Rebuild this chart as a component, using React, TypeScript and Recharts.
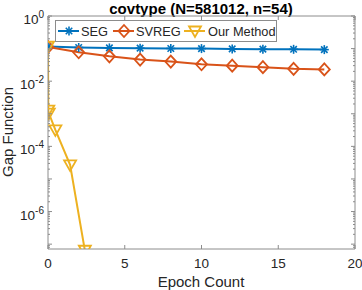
import React from "react";
import { LineChart, Line, XAxis, YAxis } from "recharts";

const segEpochs = [0, 2, 4, 6, 8, 10, 12, 14, 16, 18];
const segGap = [0.115, 0.108, 0.105, 0.103, 0.101, 0.1, 0.098, 0.096, 0.095, 0.093];

const svregEpochs = [0, 2, 4, 6, 8, 10, 12, 14, 16, 18];
const svregGap = [0.112, 0.077, 0.058, 0.046, 0.04, 0.033, 0.03, 0.027, 0.024, 0.023];

const oursEpochs = [0, 0.02, 0.05, 0.48, 1.44, 2.4];
const oursGap = [0.118, 1.3e-3, 1.05e-3, 3.2e-4, 2.7e-5, 6.5e-8];

const xTicks = [0, 5, 10, 15, 20];
const yLabelled = [0, -2, -4, -6];
const yDecades = [0, -1, -2, -3, -4, -5, -6, -7];

const BLUE = "#0072BD";
const ORANGE = "#D95319";
const YELLOW = "#EDB120";
const AXIS = "#8c8c8c";
const FONT = "'Liberation Sans', Arial, Helvetica, sans-serif";

const toPoints = (xs: number[], ys: number[]) => xs.map((x, i) => ({ x, y: ys[i] }));
const segData = toPoints(segEpochs, segGap);
const svregData = toPoints(svregEpochs, svregGap);
const oursData = toPoints(oursEpochs, oursGap);

// major decade ticks plus minor 2..9 ticks, kept inside the domain
const yMin = 7.1e-8;
const yTicks: number[] = [];
yDecades.forEach((d) => {
  yTicks.push(Math.pow(10, d));
  for (let m = 2; m <= 9; m++) {
    const v = m * Math.pow(10, d - 1);
    if (v >= yMin && v < 1) yTicks.push(v);
  }
});

const isMajor = (v: number) => {
  const l = Math.log10(v);
  return Math.abs(l - Math.round(l)) < 1e-6;
};

function Star({ cx, cy, color }: { cx: number; cy: number; color: string }) {
  const r = 4.5;
  const d = r * 0.72;
  return (
    <g stroke={color} strokeWidth={1.6}>
      <line x1={cx - r} y1={cy} x2={cx + r} y2={cy} />
      <line x1={cx} y1={cy - r} x2={cx} y2={cy + r} />
      <line x1={cx - d} y1={cy - d} x2={cx + d} y2={cy + d} />
      <line x1={cx - d} y1={cy + d} x2={cx + d} y2={cy - d} />
    </g>
  );
}

function Diamond({ cx, cy, color }: { cx: number; cy: number; color: string }) {
  return (
    <path
      d={`M${cx},${cy - 6} L${cx + 5.5},${cy} L${cx},${cy + 6} L${cx - 5.5},${cy} Z`}
      fill="none"
      stroke={color}
      strokeWidth={1.8}
    />
  );
}

function TriDown({ cx, cy, color }: { cx: number; cy: number; color: string }) {
  return (
    <path
      d={`M${cx - 6},${cy - 4.5} L${cx + 6},${cy - 4.5} L${cx},${cy + 6} Z`}
      fill="none"
      stroke={color}
      strokeWidth={1.8}
    />
  );
}

const dotOf = (Shape: any, color: string) => (p: any) =>
  <Shape key={`d${p.index}`} cx={p.cx} cy={p.cy} color={color} />;

// tick x/y arrive at the axis line because tickSize and tickMargin are 0
function LeftTick(props: any) {
  const { x, y, payload } = props;
  const v = payload.value;
  const major = isMajor(v);
  const exp = Math.round(Math.log10(v));
  return (
    <g>
      <line x1={x} y1={y} x2={x + (major ? 4 : 2)} y2={y} stroke={AXIS} />
      {major && yLabelled.includes(exp) ? (
        <text x={x - 4} y={y + 8} textAnchor="end" fontFamily={FONT} fontSize={13.5} fill="#262626">
          <tspan>10</tspan>
          <tspan dy={-6} fontSize={10}>{String(exp)}</tspan>
        </text>
      ) : null}
    </g>
  );
}

function RightTick(props: any) {
  const { x, y, payload } = props;
  const major = isMajor(payload.value);
  return <line x1={x} y1={y} x2={x - (major ? 4 : 2)} y2={y} stroke={AXIS} />;
}

function BottomTick(props: any) {
  const { x, y, payload } = props;
  return (
    <g>
      <line x1={x} y1={y} x2={x} y2={y - 4} stroke={AXIS} />
      <text x={x} y={y + 19} textAnchor="middle" fontFamily={FONT} fontSize={13.5} fill="#262626">
        {payload.value}
      </text>
    </g>
  );
}

function TopTick(props: any) {
  const { x, y } = props;
  return <line x1={x} y1={y} x2={x} y2={y + 4} stroke={AXIS} />;
}

function LegendBox() {
  const items = [
    { label: "SEG", color: BLUE, Shape: Star, x0: 2, text: 25 },
    { label: "SVREG", color: ORANGE, Shape: Diamond, x0: 57, text: 80 },
    { label: "Our Method", color: YELLOW, Shape: TriDown, x0: 128, text: 152 },
  ];
  return (
    <div
      style={{
        position: "absolute",
        left: 55,
        top: 20,
        width: 220,
        height: 20,
        border: `1px solid ${AXIS}`,
        background: "#fff",
      }}
    >
      <svg width={220} height={20} style={{ display: "block" }}>
        {items.map((it) => (
          <g key={it.label}>
            <line x1={it.x0} y1={10} x2={it.x0 + 21} y2={10} stroke={it.color} strokeWidth={2} />
            <it.Shape cx={it.x0 + 11} cy={10} color={it.color} />
            <text x={it.text} y={14.5} fontFamily={FONT} fontSize={12.8} fill="#262626">
              {it.label}
            </text>
          </g>
        ))}
      </svg>
    </div>
  );
}

export default function App() {
  return (
    <div style={{ position: "absolute", left: 0, top: 0, width: 362, height: 290, background: "#fff" }}>
      <LineChart width={362} height={290} margin={{ top: 15, right: 6, bottom: 0, left: 0 }}>
        <XAxis
          xAxisId="b"
          dataKey="x"
          type="number"
          domain={[0, 20]}
          ticks={xTicks}
          interval={0}
          height={41}
          tickSize={0}
          tickMargin={0}
          stroke={AXIS}
          tick={<BottomTick />}
          tickLine={false}
          allowDataOverflow
        />
        <XAxis
          xAxisId="t"
          orientation="top"
          dataKey="x"
          type="number"
          domain={[0, 20]}
          ticks={xTicks}
          interval={0}
          height={1}
          tickSize={0}
          tickMargin={0}
          stroke={AXIS}
          tick={<TopTick />}
          tickLine={false}
          allowDataOverflow
        />
        <YAxis
          yAxisId="l"
          scale="log"
          type="number"
          domain={[yMin, 1]}
          ticks={yTicks}
          interval={0}
          width={48}
          tickSize={0}
          tickMargin={0}
          stroke={AXIS}
          tick={<LeftTick />}
          tickLine={false}
          allowDataOverflow
        />
        <YAxis
          yAxisId="r"
          orientation="right"
          scale="log"
          type="number"
          domain={[yMin, 1]}
          ticks={yTicks}
          interval={0}
          width={1}
          tickSize={0}
          tickMargin={0}
          stroke={AXIS}
          tick={<RightTick />}
          tickLine={false}
          allowDataOverflow
        />
        <Line
          xAxisId="b"
          yAxisId="l"
          data={segData}
          dataKey="y"
          stroke={BLUE}
          strokeWidth={2}
          dot={dotOf(Star, BLUE)}
          activeDot={false}
          isAnimationActive={false}
        />
        <Line
          xAxisId="b"
          yAxisId="l"
          data={svregData}
          dataKey="y"
          stroke={ORANGE}
          strokeWidth={2}
          dot={dotOf(Diamond, ORANGE)}
          activeDot={false}
          isAnimationActive={false}
        />
        <Line
          xAxisId="b"
          yAxisId="l"
          data={oursData}
          dataKey="y"
          stroke={YELLOW}
          strokeWidth={2}
          dot={dotOf(TriDown, YELLOW)}
          activeDot={false}
          isAnimationActive={false}
        />
        <text x={201} y={14} textAnchor="middle" fontFamily={FONT} fontSize={15} fontWeight="bold" fill="#000">
          covtype (N=581012, n=54)
        </text>
        <text x={201} y={287} textAnchor="middle" fontFamily={FONT} fontSize={15} fill="#262626">
          Epoch Count
        </text>
        <text
          x={13}
          y={132}
          textAnchor="middle"
          fontFamily={FONT}
          fontSize={15}
          fill="#262626"
          transform="rotate(-90 13 132)"
        >
          Gap Function
        </text>
      </LineChart>
      <LegendBox />
    </div>
  );
}
